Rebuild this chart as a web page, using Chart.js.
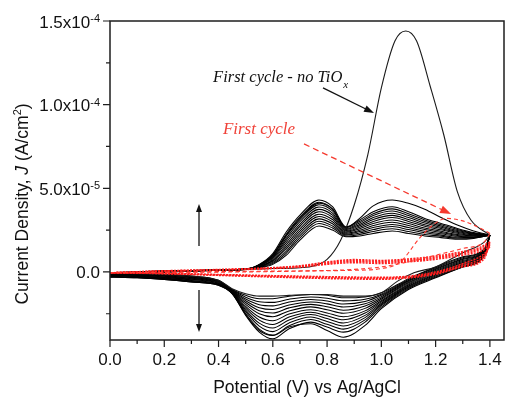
<!DOCTYPE html>
<html>
<head>
<meta charset="utf-8">
<script src="https://cdn.jsdelivr.net/npm/chart.js@4.4.1/dist/chart.umd.min.js"></script>
<style>
  html, body { margin: 0; padding: 0; background: #fff; }
  #wrap { width: 506px; height: 398px; }
</style>
</head>
<body>
<div id="wrap"><canvas id="cv" width="506" height="398"></canvas></div>
<script>
// Potential grids (V vs Ag/AgCl), current density in units of 1e-5 A/cm2

// --- cycling with TiOx (black family) ---
const anodicV   = [0.0, 0.1, 0.2, 0.3, 0.4, 0.5, 0.55, 0.6, 0.65, 0.7, 0.77, 0.82, 0.87, 0.92, 0.97, 1.04, 1.1, 1.16, 1.22, 1.28, 1.34, 1.4];
const cathodicV = [1.4, 1.38, 1.3, 1.2, 1.1, 1.0, 0.94, 0.86, 0.8, 0.74, 0.66, 0.6, 0.55, 0.5, 0.45, 0.4, 0.3, 0.2, 0.1, 0.0];

const cycle1Up  = [-0.05, 0.0, 0.05, 0.08, 0.12, 0.18, 0.25, 0.45, 1.0, 1.9, 2.75, 2.5, 2.1, 2.15, 2.3, 2.45, 2.3, 2.15, 2.05, 1.95, 2.0, 2.2];
const cycle2Up  = [-0.07, 0.0, 0.05, 0.08, 0.12, 0.18, 0.27, 0.51, 1.13, 2.04, 2.89, 2.63, 2.15, 2.24, 2.42, 2.58, 2.42, 2.24, 2.13, 2.01, 2.03, 2.2];
const cycle3Up  = [-0.1, -0.01, 0.04, 0.07, 0.12, 0.17, 0.29, 0.57, 1.25, 2.17, 3.03, 2.75, 2.21, 2.32, 2.53, 2.71, 2.53, 2.34, 2.2, 2.07, 2.06, 2.2];
const cycle4Up  = [-0.12, -0.01, 0.04, 0.07, 0.11, 0.17, 0.3, 0.63, 1.38, 2.31, 3.17, 2.88, 2.26, 2.41, 2.65, 2.84, 2.65, 2.43, 2.28, 2.13, 2.09, 2.2];
const cycle5Up  = [-0.14, -0.02, 0.03, 0.07, 0.11, 0.17, 0.32, 0.68, 1.5, 2.44, 3.31, 3.0, 2.32, 2.49, 2.77, 2.97, 2.77, 2.53, 2.36, 2.18, 2.13, 2.2];
const cycle6Up  = [-0.16, -0.02, 0.03, 0.07, 0.11, 0.17, 0.34, 0.74, 1.63, 2.58, 3.45, 3.13, 2.37, 2.58, 2.89, 3.1, 2.89, 2.62, 2.43, 2.24, 2.16, 2.2];
const cycle7Up  = [-0.19, -0.03, 0.02, 0.06, 0.11, 0.16, 0.36, 0.81, 1.77, 2.73, 3.6, 3.27, 2.43, 2.67, 3.02, 3.25, 3.02, 2.73, 2.52, 2.31, 2.19, 2.2];
const cycle8Up  = [-0.21, -0.03, 0.02, 0.06, 0.11, 0.16, 0.38, 0.87, 1.9, 2.86, 3.74, 3.4, 2.48, 2.76, 3.13, 3.38, 3.13, 2.82, 2.59, 2.37, 2.22, 2.2];
const cycle9Up  = [-0.23, -0.04, 0.01, 0.06, 0.1, 0.16, 0.4, 0.92, 2.02, 3.0, 3.88, 3.52, 2.54, 2.84, 3.25, 3.51, 3.25, 2.92, 2.67, 2.42, 2.26, 2.2];
const cycle10Up = [-0.26, -0.04, 0.01, 0.06, 0.1, 0.16, 0.41, 0.98, 2.15, 3.13, 4.02, 3.65, 2.59, 2.93, 3.37, 3.64, 3.37, 3.01, 2.75, 2.48, 2.29, 2.2];
const cycle11Up = [-0.28, -0.05, 0.0, 0.05, 0.1, 0.15, 0.43, 1.04, 2.27, 3.27, 4.16, 3.77, 2.65, 3.01, 3.48, 3.77, 3.48, 3.11, 2.82, 2.54, 2.32, 2.2];
const cycle12Up = [-0.3, -0.05, 0.0, 0.05, 0.1, 0.15, 0.45, 1.1, 2.4, 3.4, 4.3, 3.9, 2.7, 3.1, 3.6, 3.9, 3.6, 3.2, 2.9, 2.6, 2.35, 2.2];
const outerUp   = [-0.3, -0.05, 0.0, 0.05, 0.1, 0.15, 0.42, 1.0, 2.2, 3.2, 4.1, 3.75, 2.65, 3.2, 3.95, 4.3, 4.1, 3.75, 3.25, 2.8, 2.45, 2.2];

const cycle1Down  = [2.2, 1.4, 0.9, 0.3, -0.4, -1.25, -1.5, -1.55, -1.4, -1.35, -1.45, -1.6, -1.6, -1.4, -1.05, -0.5, -0.25, -0.15, -0.1, -0.05];
const cycle2Down  = [2.2, 1.36, 0.85, 0.25, -0.45, -1.33, -1.64, -1.73, -1.57, -1.5, -1.63, -1.82, -1.78, -1.51, -1.07, -0.53, -0.28, -0.18, -0.12, -0.07];
const cycle3Down  = [2.2, 1.33, 0.79, 0.19, -0.51, -1.4, -1.77, -1.92, -1.74, -1.65, -1.8, -2.03, -1.96, -1.62, -1.1, -0.55, -0.31, -0.2, -0.15, -0.1];
const cycle4Down  = [2.2, 1.29, 0.74, 0.14, -0.56, -1.48, -1.91, -2.1, -1.91, -1.8, -1.98, -2.25, -2.14, -1.72, -1.12, -0.58, -0.34, -0.23, -0.17, -0.12];
const cycle5Down  = [2.2, 1.26, 0.68, 0.08, -0.62, -1.56, -2.04, -2.29, -2.08, -1.94, -2.15, -2.46, -2.32, -1.83, -1.14, -0.61, -0.38, -0.26, -0.19, -0.14];
const cycle6Down  = [2.2, 1.22, 0.63, 0.03, -0.67, -1.63, -2.18, -2.47, -2.26, -2.09, -2.33, -2.68, -2.5, -1.94, -1.16, -0.64, -0.41, -0.29, -0.21, -0.16];
const cycle7Down  = [2.2, 1.18, 0.57, -0.03, -0.73, -1.72, -2.33, -2.68, -2.45, -2.26, -2.52, -2.92, -2.7, -2.06, -1.19, -0.67, -0.44, -0.32, -0.24, -0.19];
const cycle8Down  = [2.2, 1.14, 0.52, -0.08, -0.78, -1.79, -2.46, -2.86, -2.62, -2.41, -2.7, -3.14, -2.88, -2.17, -1.21, -0.69, -0.47, -0.34, -0.26, -0.21];
const cycle9Down  = [2.2, 1.11, 0.46, -0.14, -0.84, -1.87, -2.6, -3.05, -2.79, -2.55, -2.87, -3.35, -3.06, -2.28, -1.23, -0.72, -0.51, -0.37, -0.28, -0.23];
const cycle10Down = [2.2, 1.07, 0.41, -0.19, -0.89, -1.95, -2.73, -3.23, -2.96, -2.7, -3.05, -3.57, -3.24, -2.38, -1.26, -0.75, -0.54, -0.4, -0.31, -0.26];
const cycle11Down = [2.2, 1.04, 0.35, -0.25, -0.95, -2.02, -2.87, -3.42, -3.13, -2.85, -3.22, -3.78, -3.42, -2.49, -1.28, -0.77, -0.57, -0.42, -0.33, -0.28];
const cycle12Down = [2.2, 1.0, 0.3, -0.3, -1.0, -2.1, -3.0, -3.6, -3.3, -3.0, -3.4, -4.0, -3.6, -2.6, -1.3, -0.8, -0.6, -0.45, -0.35, -0.3];
const outerDown   = [2.2, 1.0, 0.3, -0.35, -1.05, -2.2, -3.2, -3.9, -3.5, -3.1, -3.3, -3.8, -3.5, -2.55, -1.3, -0.8, -0.6, -0.45, -0.35, -0.3];

// --- first cycle, no TiOx (black, big oxidation peak) ---
const noTiOxUpV   = [0.0, 0.2, 0.4, 0.6, 0.7, 0.75, 0.8, 0.85, 0.9, 0.95, 1.0, 1.05, 1.09, 1.13, 1.18, 1.23, 1.28, 1.33, 1.4];
const noTiOxUp    = [-0.05, 0.05, 0.1, 0.2, 0.25, 0.35, 0.75, 1.9, 4.0, 7.0, 11.0, 13.8, 14.4, 13.8, 11.1, 8.2, 4.8, 3.1, 2.2];
const noTiOxDownV = [1.4, 1.38, 1.3, 1.2, 1.12, 1.06, 1.0, 0.94, 0.86, 0.8, 0.74, 0.66, 0.6, 0.55, 0.5, 0.45, 0.4, 0.3, 0.2, 0.1, 0.0];
const noTiOxDown  = [2.2, 1.8, 1.15, 0.3, -0.05, -0.55, -1.25, -1.45, -1.45, -1.35, -1.35, -1.4, -1.45, -1.45, -1.3, -1.0, -0.5, -0.25, -0.15, -0.1, -0.05];

// --- red cycles (dotted) ---
const redUpV   = [0.0, 0.2, 0.4, 0.6, 0.7, 0.8, 0.9, 1.0, 1.1, 1.2, 1.3, 1.36, 1.4];
const red1Up   = [-0.05, 0.05, 0.1, 0.2, 0.28, 0.45, 0.55, 0.5, 0.6, 0.75, 1.0, 1.2, 1.5];
const red2Up   = [-0.05, 0.05, 0.12, 0.22, 0.31, 0.5, 0.62, 0.57, 0.66, 0.82, 1.08, 1.3, 1.6];
const red3Up   = [-0.05, 0.06, 0.13, 0.24, 0.34, 0.55, 0.68, 0.63, 0.72, 0.88, 1.15, 1.38, 1.7];
const red4Up   = [-0.05, 0.07, 0.15, 0.26, 0.37, 0.6, 0.74, 0.69, 0.78, 0.95, 1.22, 1.45, 1.8];
const redDownV = [1.4, 1.38, 1.3, 1.2, 1.1, 1.0, 0.8, 0.6, 0.4, 0.2, 0.0];
const red1Down = [1.5, 1.1, 0.5, 0.0, -0.25, -0.32, -0.28, -0.22, -0.15, -0.08, -0.05];
const red2Down = [1.6, 1.0, 0.42, -0.05, -0.28, -0.36, -0.32, -0.25, -0.17, -0.09, -0.05];
const red3Down = [1.7, 0.9, 0.36, -0.1, -0.32, -0.4, -0.36, -0.28, -0.19, -0.1, -0.05];
const red4Down = [1.8, 0.8, 0.3, -0.14, -0.36, -0.44, -0.4, -0.31, -0.21, -0.11, -0.05];

// --- red first cycle (dashed) ---
const firstUpV   = [0.0, 0.3, 0.6, 0.9, 1.0, 1.07, 1.14, 1.19, 1.24, 1.3, 1.36, 1.4];
const firstUp    = [-0.05, 0.0, 0.05, 0.1, 0.2, 0.6, 2.0, 2.8, 3.2, 3.05, 2.65, 2.3];
const firstDownV = [1.4, 1.38, 1.3, 1.2, 1.1, 1.0, 0.9, 0.7, 0.5, 0.3, 0.0];
const firstDown  = [2.3, 1.8, 1.4, 1.0, 0.6, 0.3, 0.15, 0.05, 0.0, -0.02, -0.05];

// axes
const xMajorTicks = [0.0, 0.2, 0.4, 0.6, 0.8, 1.0, 1.2, 1.4];
const xTickLabels = ['0.0', '0.2', '0.4', '0.6', '0.8', '1.0', '1.2', '1.4'];
const xMinorTicks = [0.1, 0.3, 0.5, 0.7, 0.9, 1.1, 1.3];
const yMajorTicks = [0, 5, 10, 15];
const yTickMantissa = ['0.0', '5.0x10', '1.0x10', '1.5x10'];
const yTickExponent = ['', '-5', '-4', '-4'];
const yMinorTicks = [-2.5, 2.5, 7.5, 12.5];

// annotation anchors, in data units [V, J]
const noTiOxLabelAt = [0.38, 11.35];
const noTiOxArrow = [[0.785, 11.0], [0.973, 9.5]];
const firstLabelAt = [0.416, 8.24];
const firstArrow = [[0.715, 7.65], [1.257, 3.46]];
const upArrow = [[0.328, 1.55], [0.328, 4.06]];
const downArrow = [[0.328, -1.08], [0.328, -3.59]];

const pts = (xs, ys) => xs.map((x, i) => ({ x: x, y: ys[i] }));

const familyUp = [cycle1Up, cycle2Up, cycle3Up, cycle4Up, cycle5Up, cycle6Up, cycle7Up, cycle8Up, cycle9Up, cycle10Up, cycle11Up, cycle12Up, outerUp];
const familyDown = [cycle1Down, cycle2Down, cycle3Down, cycle4Down, cycle5Down, cycle6Down, cycle7Down, cycle8Down, cycle9Down, cycle10Down, cycle11Down, cycle12Down, outerDown];

const datasets = [];
familyUp.forEach((ys, i) => {
    datasets.push({ data: pts(anodicV, ys), borderColor: '#000', borderWidth: 1.05, order: 3 });
    datasets.push({ data: pts(cathodicV, familyDown[i]), borderColor: '#000', borderWidth: 1.05, order: 3 });
});
datasets.push({ data: pts(noTiOxUpV, noTiOxUp), borderColor: '#1a1a1a', borderWidth: 1.1, order: 2 });
datasets.push({ data: pts(noTiOxDownV, noTiOxDown), borderColor: '#1a1a1a', borderWidth: 1.1, order: 2 });
[[red1Up, red1Down], [red2Up, red2Down], [red3Up, red3Down], [red4Up, red4Down]].forEach(([u, d]) => {
    datasets.push({ data: pts(redUpV, u), borderColor: '#ff1e1e', borderWidth: 1.4, borderDash: [2, 1.2], order: 1 });
    datasets.push({ data: pts(redDownV, d), borderColor: '#ff1e1e', borderWidth: 1.4, borderDash: [2, 1.2], order: 1 });
});
datasets.push({ data: pts(firstUpV, firstUp), borderColor: '#ff3a30', borderWidth: 1.1, borderDash: [4, 3], order: 0 });
datasets.push({ data: pts(firstDownV, firstDown), borderColor: '#ff3a30', borderWidth: 1.1, borderDash: [4, 3], order: 0 });

const SANS = '"Liberation Sans", Arial, sans-serif';
const SERIF = '"Liberation Serif", "Times New Roman", serif';

function arrow(ctx, xs, ys, seg, color, dash, head, headW) {
    const x1 = xs.getPixelForValue(seg[0][0]), y1 = ys.getPixelForValue(seg[0][1]);
    const x2 = xs.getPixelForValue(seg[1][0]), y2 = ys.getPixelForValue(seg[1][1]);
    const ang = Math.atan2(y2 - y1, x2 - x1);
    ctx.save();
    ctx.strokeStyle = color; ctx.fillStyle = color; ctx.lineWidth = 1.3;
    ctx.setLineDash(dash);
    ctx.beginPath();
    ctx.moveTo(x1, y1);
    ctx.lineTo(x2 - Math.cos(ang) * head * 0.8, y2 - Math.sin(ang) * head * 0.8);
    ctx.stroke();
    ctx.setLineDash([]);
    ctx.translate(x2, y2); ctx.rotate(ang);
    ctx.beginPath();
    ctx.moveTo(0, 0); ctx.lineTo(-head, headW / 2); ctx.lineTo(-head, -headW / 2);
    ctx.closePath(); ctx.fill();
    ctx.restore();
}

const axesPlugin = {
    id: 'axesPlugin',
    afterDraw(chart) {
        const { ctx, chartArea: a } = chart;
        const xs = chart.scales.x, ys = chart.scales.y;
        ctx.save();
        // frame
        ctx.strokeStyle = '#1e1e1e';
        ctx.lineWidth = 1.5;
        ctx.strokeRect(a.left, a.top, a.right - a.left, a.bottom - a.top);
        // ticks
        ctx.lineWidth = 1.2;
        ctx.beginPath();
        xMajorTicks.forEach(v => { const p = xs.getPixelForValue(v); ctx.moveTo(p, a.bottom); ctx.lineTo(p, a.bottom + 7); });
        xMinorTicks.forEach(v => { const p = xs.getPixelForValue(v); ctx.moveTo(p, a.bottom); ctx.lineTo(p, a.bottom + 4); });
        yMajorTicks.forEach(v => { const p = ys.getPixelForValue(v); ctx.moveTo(a.left, p); ctx.lineTo(a.left - 7, p); });
        yMinorTicks.forEach(v => { const p = ys.getPixelForValue(v); ctx.moveTo(a.left, p); ctx.lineTo(a.left - 4, p); });
        ctx.stroke();

        // tick labels
        ctx.fillStyle = '#111';
        ctx.font = '17px ' + SANS;
        ctx.textAlign = 'center';
        ctx.textBaseline = 'alphabetic';
        xMajorTicks.forEach((v, i) => ctx.fillText(xTickLabels[i], xs.getPixelForValue(v), a.bottom + 25));

        ctx.textAlign = 'left';
        yMajorTicks.forEach((v, i) => {
            const p = ys.getPixelForValue(v);
            ctx.font = '17px ' + SANS;
            const w1 = ctx.measureText(yTickMantissa[i]).width;
            ctx.font = '11px ' + SANS;
            const w2 = yTickExponent[i] ? ctx.measureText(yTickExponent[i]).width : 0;
            const x0 = a.left - 10 - w1 - w2;
            ctx.font = '17px ' + SANS;
            ctx.fillText(yTickMantissa[i], x0, p + 6.5);
            if (w2) {
                ctx.font = '11px ' + SANS;
                ctx.fillText(yTickExponent[i], x0 + w1, p + 1);
            }
        });

        // axis titles
        ctx.font = '17.5px ' + SANS;
        ctx.textAlign = 'center';
        ctx.fillText('Potential (V) vs Ag/AgCl', (a.left + a.right) / 2, 393);

        ctx.save();
        ctx.translate(28, 204);
        ctx.rotate(-Math.PI / 2);
        const parts = [
            ['Current Density, ', '17.5px ' + SANS, 0],
            ['J', 'italic 17.5px ' + SANS, 0],
            [' (A/cm', '17.5px ' + SANS, 0],
            ['2', '11px ' + SANS, -7],
            [')', '17.5px ' + SANS, 0]
        ];
        let total = 0;
        parts.forEach(p => { ctx.font = p[1]; total += ctx.measureText(p[0]).width; });
        let cx = -total / 2;
        ctx.textAlign = 'left';
        parts.forEach(p => { ctx.font = p[1]; ctx.fillText(p[0], cx, p[2]); cx += ctx.measureText(p[0]).width; });
        ctx.restore();

        // annotations
        ctx.textAlign = 'left';
        ctx.fillStyle = '#111';
        ctx.font = 'italic 16.5px ' + SERIF;
        const bx = xs.getPixelForValue(noTiOxLabelAt[0]), by = ys.getPixelForValue(noTiOxLabelAt[1]);
        const t1 = 'First cycle - no TiO';
        ctx.fillText(t1, bx, by);
        const tw = ctx.measureText(t1).width;
        ctx.font = 'italic 11px ' + SERIF;
        ctx.fillText('x', bx + tw + 1, by + 6);

        ctx.fillStyle = '#f0433a';
        ctx.font = 'italic 17px ' + SERIF;
        ctx.fillText('First cycle', xs.getPixelForValue(firstLabelAt[0]), ys.getPixelForValue(firstLabelAt[1]));
        ctx.restore();

        arrow(ctx, xs, ys, noTiOxArrow, '#111', [], 10, 7);
        arrow(ctx, xs, ys, firstArrow, '#f5392e', [6, 4], 11, 8);
        arrow(ctx, xs, ys, upArrow, '#111', [], 8, 6);
        arrow(ctx, xs, ys, downArrow, '#111', [], 8, 6);
    }
};

new Chart(document.getElementById('cv'), {
    type: 'scatter',
    data: { datasets: datasets },
    options: {
        responsive: false,
        animation: false,
        devicePixelRatio: 1,
        layout: { padding: { left: 110, right: 2, top: 21, bottom: 58 } },
        elements: {
            point: { radius: 0, hoverRadius: 0 },
            line: { cubicInterpolationMode: 'monotone', fill: false }
        },
        datasets: { scatter: { showLine: true } },
        scales: {
            x: { type: 'linear', min: 0, max: 1.452, display: false },
            y: { type: 'linear', min: -4.07, max: 15, display: false }
        },
        plugins: { legend: { display: false }, tooltip: { enabled: false } },
        events: []
    },
    plugins: [axesPlugin]
});
</script>
</body>
</html>
